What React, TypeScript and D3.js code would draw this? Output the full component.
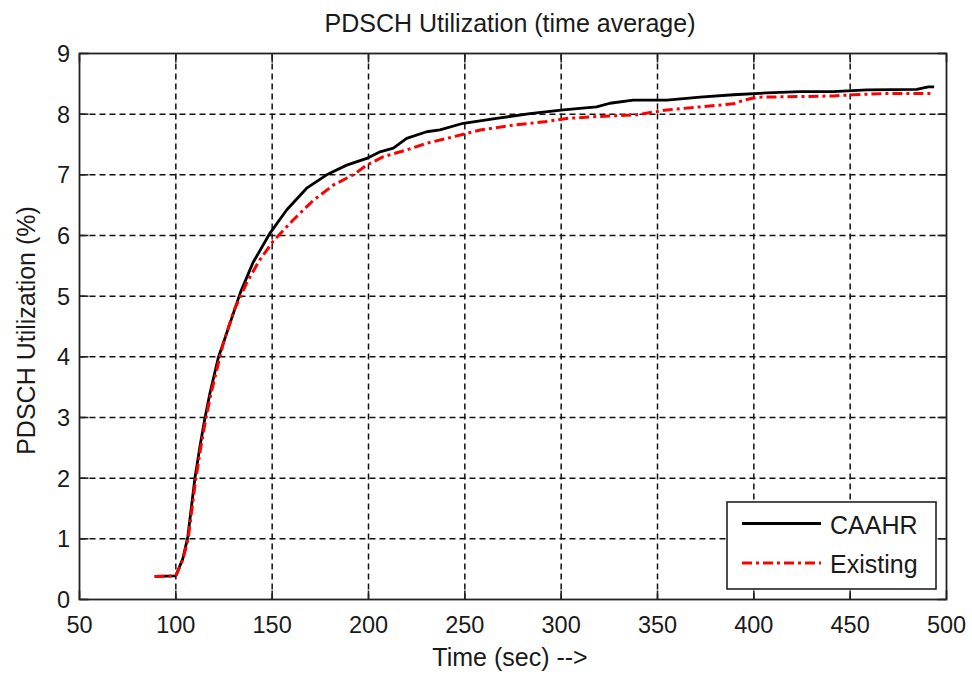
import React from "react";
import * as d3 from "d3";

const xTicks = [50, 100, 150, 200, 250, 300, 350, 400, 450, 500];
const yTicks = [0, 1, 2, 3, 4, 5, 6, 7, 8, 9];

const caahrT = [89, 100, 103.6, 106.2, 109.9, 112.5, 115.1, 117.7, 122, 126.4, 133.4, 140, 148.9, 157.5, 167.9, 178.3, 188.7, 199.1, 206, 212.9, 219.8, 230.2, 237.1, 249.2, 266.5, 283.8, 301.1, 318.4, 325.3, 337.4, 354.8, 372.1, 389.4, 406.7, 424, 441.3, 458.6, 484.5, 490.6, 493.6];
const caahrV = [0.38, 0.39, 0.67, 1.03, 2.0, 2.52, 2.99, 3.4, 3.98, 4.39, 5.05, 5.55, 6.04, 6.42, 6.78, 7.0, 7.16, 7.27, 7.38, 7.44, 7.6, 7.71, 7.74, 7.85, 7.93, 8.01, 8.07, 8.12, 8.18, 8.23, 8.23, 8.28, 8.32, 8.35, 8.37, 8.37, 8.4, 8.41, 8.45, 8.45];

const existT = [89, 100, 103.6, 106.4, 110.2, 112.8, 115.4, 118, 124.6, 130, 136.8, 143, 150.6, 161, 171.4, 181.7, 192.1, 199.1, 207.7, 219.8, 230.2, 240.6, 258, 275.2, 292.5, 302.9, 318.4, 339.2, 354.8, 372.1, 389.4, 394.6, 401.5, 424, 441.3, 451.7, 467.3, 493.6];
const existV = [0.38, 0.39, 0.65, 1.0, 1.95, 2.48, 2.95, 3.36, 4.22, 4.75, 5.22, 5.57, 5.91, 6.26, 6.58, 6.83, 7.0, 7.16, 7.3, 7.41, 7.52, 7.6, 7.74, 7.82, 7.88, 7.93, 7.96, 7.99, 8.07, 8.12, 8.17, 8.23, 8.28, 8.29, 8.3, 8.32, 8.34, 8.34];

const seriesNames = ["CAAHR", "Existing"];

const W = 972, H = 677;
const L = 79.5, R = 946.5, T = 53.5, B = 599.5;
const FONT = "'Liberation Sans', Arial, sans-serif";
const TXT = "#1a1a1a";

export default function App() {
  const x = d3.scaleLinear().domain([50, 500]).range([L, R]);
  const y = d3.scaleLinear().domain([0, 9]).range([B, T]);
  const line = d3.line<[number, number]>().x(d => x(d[0])).y(d => y(d[1]));
  const caahr: [number, number][] = caahrT.map((t, i) => [t, caahrV[i]]);
  const exist: [number, number][] = existT.map((t, i) => [t, existV[i]]);
  const tick = 9;

  return (
    <svg width={W} height={H} style={{ position: "absolute", left: 0, top: 0, background: "#fff" }}>
      <rect x={0} y={0} width={W} height={H} fill="#fff" />
      {/* grid */}
      <g stroke="#111" strokeWidth={1.5} strokeDasharray="6,4">
        {xTicks.slice(1, -1).map(t => (
          <line key={"gx" + t} x1={x(t)} x2={x(t)} y1={T} y2={B} />
        ))}
        {yTicks.slice(1, -1).map(t => (
          <line key={"gy" + t} x1={L} x2={R} y1={y(t)} y2={y(t)} />
        ))}
      </g>
      {/* ticks */}
      <g stroke="#222" strokeWidth={1.6}>
        {xTicks.map(t => (
          <g key={"tx" + t}>
            <line x1={x(t)} x2={x(t)} y1={B} y2={B - tick} />
            <line x1={x(t)} x2={x(t)} y1={T} y2={T + tick} />
          </g>
        ))}
        {yTicks.map(t => (
          <g key={"ty" + t}>
            <line x1={L} x2={L + tick} y1={y(t)} y2={y(t)} />
            <line x1={R} x2={R - tick} y1={y(t)} y2={y(t)} />
          </g>
        ))}
      </g>
      {/* lines */}
      <path d={line(caahr) || ""} fill="none" stroke="#000" strokeWidth={2.8} strokeLinejoin="round" />
      <path d={line(exist) || ""} fill="none" stroke="#ff0000" strokeWidth={3} strokeDasharray="10,4,3,4" />
      {/* axes box */}
      <rect x={L} y={T} width={R - L} height={B - T} fill="none" stroke="#222" strokeWidth={1.8} />
      {/* tick labels */}
      <g fontFamily={FONT} fontSize={23.5} fill={TXT}>
        {xTicks.map(t => (
          <text key={"lx" + t} x={x(t)} y={633} textAnchor="middle">{t}</text>
        ))}
        {yTicks.map(t => (
          <text key={"ly" + t} x={70} y={y(t)} dy="0.36em" textAnchor="end">{t}</text>
        ))}
      </g>
      {/* titles */}
      <text x={510} y={32} textAnchor="middle" fontFamily={FONT} fontSize={25} fill={TXT}>PDSCH Utilization (time average)</text>
      <text x={510} y={666} textAnchor="middle" fontFamily={FONT} fontSize={25} fill={TXT}>Time (sec) --&gt;</text>
      <text transform={`translate(35,${(T + B) / 2 + 4}) rotate(-90)`} textAnchor="middle" fontFamily={FONT} fontSize={25} fill={TXT}>PDSCH Utilization (%)</text>
      {/* legend */}
      <g>
        <rect x={727} y={502} width={209} height={87} fill="#fff" stroke="#222" strokeWidth={1.6} />
        <line x1={742} x2={821} y1={523.5} y2={523.5} stroke="#000" strokeWidth={3} />
        <line x1={742} x2={821} y1={563} y2={563} stroke="#ff0000" strokeWidth={3} strokeDasharray="10,4,3,4" />
        <text x={830} y={534} fontFamily={FONT} fontSize={25} fill={TXT}>{seriesNames[0]}</text>
        <text x={830} y={573} fontFamily={FONT} fontSize={25} fill={TXT}>{seriesNames[1]}</text>
      </g>
    </svg>
  );
}
